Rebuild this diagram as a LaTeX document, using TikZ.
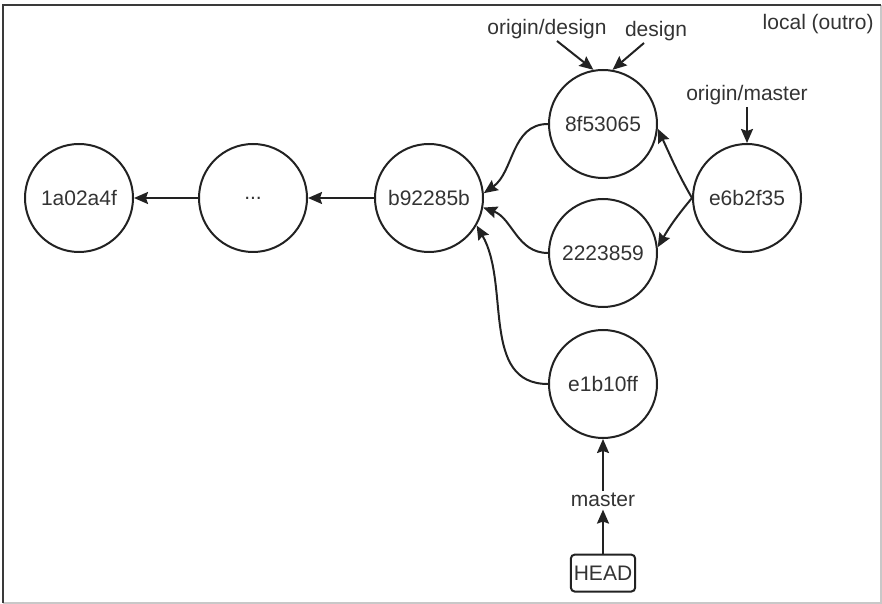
\documentclass[tikz,border=0pt]{standalone}
\usepackage{fontspec}
\setmainfont{Liberation Sans}
\usepackage{xcolor}
\definecolor{cMain}{HTML}{222222}
\definecolor{cText}{HTML}{333333}
\definecolor{cFrame}{HTML}{3A3A3A}
\definecolor{cFrameLight}{HTML}{C8C8C8}
\usepackage{tikz}
\usetikzlibrary{positioning,arrows.meta}
\tikzset{
  node-commit/.style={draw=cMain,line width=1pt,circle,minimum size=54pt,
    inner sep=0pt,align=center,text=cText,font=\fontsize{10.5}{12}\selectfont},
  node-ref/.style={inner sep=1pt,text=cText,font=\fontsize{10.5}{12}\selectfont},
  node-head/.style={draw=cMain,line width=1pt,rounded corners=2pt,
    minimum width=32pt,minimum height=18.5pt,inner sep=1.5pt,
    text=cText,font=\fontsize{10.5}{12}\selectfont},
  arrow/.style={-{Stealth[length=7pt,width=6pt,inset=1pt]},line width=1pt,draw=cMain},
}

\begin{document}
\begin{tikzpicture}
  \useasboundingbox (-39.5pt,99pt) rectangle (401.5pt,-203pt);
  % moldura
  \draw[cFrameLight,line width=0.8pt] (401pt,96.5pt) -- (401pt,-202.5pt) -- (-38pt,-202.5pt);
  \draw[cFrame,line width=1.2pt] (-38pt,-202.5pt) -- (-38pt,96.5pt) -- (401pt,96.5pt);
  \node[node-ref,anchor=north east] (loc) at (398.5pt,93pt) {local (outro)};

  % commits
  \node[node-commit] (root) at (0,0) {1a02a4f};
  \node[node-commit,right=32pt of root] (dots) {...};
  \node[node-commit,right=33pt of dots] (b) {b92285b};
  \node[node-commit,right=32pt of b,yshift=37pt] (c8f) {8f53065};
  \node[node-commit,right=32pt of b,yshift=-27.5pt] (c222) {2223859};
  \node[node-commit,right=32pt of b,yshift=-93pt] (e1b) {e1b10ff};
  \node[node-commit,right=104pt of b] (e6b) {e6b2f35};

  % referencias
  \node[node-ref,above=14pt of c8f,xshift=-28pt] (od) {origin/design};
  \node[node-ref,above=13pt of c8f,xshift=26.5pt] (dsg) {design};
  \node[node-ref,above=18pt of e6b] (om) {origin/master};
  \node[node-ref,below=26pt of e1b] (mst) {master};
  \node[node-head,below=22pt of mst] (head) {HEAD};

  \draw[arrow] (dots) -- (root);
  \draw[arrow] (b) -- (dots);
  \draw[arrow] (c8f.west) to[out=180,in=35] (b.5);
  \draw[arrow] (c222.west) to[out=180,in=-20] (b.-10);
  \draw[arrow] (e1b.west) to[out=180,in=-60] (b.-30);
  \draw[arrow] (e6b.west) to[out=120,in=-65] (c8f.-5);
  \draw[arrow] (e6b.west) to[out=-130,in=60] (c222.6);
  \draw[arrow] ([xshift=5pt]od.south) -- (c8f.100);
  \draw[arrow] ([xshift=-6pt]dsg.south) -- (c8f.80);
  \draw[arrow] (om) -- (e6b);
  \draw[arrow] (mst) -- (e1b);
  \draw[arrow] (head) -- (mst);
\end{tikzpicture}
\end{document}
